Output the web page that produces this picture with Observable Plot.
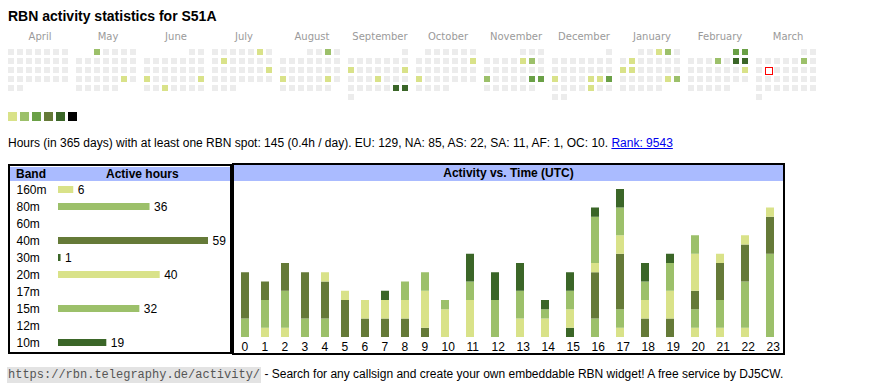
<!DOCTYPE html>
<html><head><meta charset="utf-8">
<script src="https://cdn.jsdelivr.net/npm/d3@7"></script>
<script src="https://cdn.jsdelivr.net/npm/@observablehq/plot@0.6"></script>
<style>
body{margin:0;background:#fff;font-family:"Liberation Sans",Arial,sans-serif;font-size:12px;color:#000;}
.abs{position:absolute;}
#title{left:8px;top:9px;font-size:14px;font-weight:bold;line-height:14px;white-space:nowrap;}
#summary{left:8px;top:137px;line-height:12px;white-space:nowrap;}
#summary a{color:#0000ee;text-decoration:underline;}
.box{border:2px solid #000;background:#fff;}
.hdr{position:absolute;left:0;right:0;background:#aabbff;font-weight:bold;line-height:14px;height:14px;white-space:nowrap;}
#footer{left:7px;top:366px;line-height:16px;white-space:nowrap;}
#footer code{font-family:"Liberation Mono","DejaVu Sans Mono",monospace;font-size:12px;background:#e3e3e3;color:#555;padding:1px 1px;}
svg{display:block;}
</style></head><body>
<div id="title" class="abs">RBN activity statistics for S51A</div>
<div id="cal" class="abs" style="left:0;top:26px"></div>
<div id="legend" class="abs" style="left:0;top:112px"></div>
<div id="summary" class="abs"></div>
<div id="boxL" class="abs box" style="left:8px;top:164px;width:220px;height:186px;">
  <div class="hdr" style="top:1px;"><span style="position:absolute;left:6px;">Band</span><span style="position:absolute;left:96px;">Active hours</span></div>
  <div id="bandChart" class="abs" style="left:0;top:15px"></div>
</div>
<div id="boxR" class="abs box" style="left:232px;top:163px;width:549px;height:188px;">
  <div class="hdr" style="top:0;height:16px;line-height:17px;text-align:center;">Activity vs. Time (UTC)</div>
  <div id="hourChart" class="abs" style="left:0;top:16px"></div>
</div>
<div id="footer" class="abs"><code>https://rbn.telegraphy.de/activity/</code> - Search for any callsign and create your own embeddable RBN widget! A free service by DJ5CW.</div>
<script>
// ---------- data ----------
const months = ["April","May","June","July","August","September","October","November","December","January","February","March"];
const monthYears = [2024,2024,2024,2024,2024,2024,2024,2024,2024,2025,2025,2025];
const monthNums  = [4,5,6,7,8,9,10,11,12,1,2,3];
const levelColors = ["#ececec","#d9e289","#9cc06a","#6aa046","#657a38","#3b6628","#000000"];
const activeDays = [
  ["2024-05-01",2],["2024-05-25",1],
  ["2024-06-17",1],["2024-06-23",1],["2024-06-26",1],
  ["2024-07-06",1],["2024-07-09",1],["2024-07-21",1],
  ["2024-08-03",2],["2024-08-19",1],["2024-08-24",1],
  ["2024-09-09",1],["2024-09-15",1],["2024-09-19",1],["2024-09-28",5],["2024-09-29",5],
  ["2024-10-13",1],["2024-10-21",1],
  ["2024-11-08",1],["2024-11-09",2],["2024-11-18",2],["2024-11-23",3],["2024-11-24",3],
  ["2024-12-16",1],["2024-12-20",1],["2024-12-21",1],["2024-12-22",3],["2024-12-27",1],
  ["2025-01-03",1],["2025-01-04",2],["2025-01-07",1],["2025-01-13",1],["2025-01-14",1],["2025-01-25",1],["2025-01-26",2],
  ["2025-02-01",3],["2025-02-02",3],["2025-02-06",2],["2025-02-08",5],["2025-02-09",5],["2025-02-16",1],
  ["2025-03-08",2]
];
const today = "2025-03-11";
const legendLevels = [1,2,3,4,5,6];

const continents = ["EU","NA","AS","SA","AF","OC"];
const continentHours = [129,85,22,11,1,10];
const totalHours = 145, perDay = "0.4", rank = 9543;

const bands = ["160m","80m","60m","40m","30m","20m","17m","15m","12m","10m"];
const bandHours = [6,36,0,59,1,40,0,32,0,19];
const bandColors = ["#d9e289","#9cc06a","#6aa046","#657a38","#3b6628","#d9e289","#6aa046","#9cc06a","#657a38","#3b6628"];

const hours = d3.range(24);
const h160m = [0,1,1,0,0,0,0,0,0,0,0,0,0,0,0,0,0,1,0,0,1,1,1,0];
const h80m  = [2,3,4,2,2,0,0,0,0,0,0,0,0,0,0,0,2,2,0,0,2,3,5,9];
const h40m  = [5,2,3,5,4,4,2,2,2,1,0,0,0,0,0,0,5,6,2,2,2,4,4,4];
const h30m  = [0,0,0,0,0,0,0,0,0,0,0,0,0,0,0,1,0,0,0,0,0,0,0,0];
const h20m  = [0,0,0,0,1,1,2,2,2,4,3,4,0,2,2,2,1,2,2,3,4,1,1,1];
const h15m  = [0,0,0,0,0,0,0,0,2,2,1,2,4,3,1,2,5,3,2,3,2,0,0,0];
const h10m  = [0,0,0,0,0,0,0,1,0,0,0,3,3,3,1,2,1,2,2,1,0,0,0,0];
const hourSeries = {"160m":h160m,"80m":h80m,"40m":h40m,"30m":h30m,"20m":h20m,"15m":h15m,"10m":h10m};
const stackOrder = ["160m","80m","40m","30m","20m","15m","10m"];

// ---------- calendar ----------
const levelByDate = new Map(activeDays);
const cal = [];
months.forEach((m, i) => {
  const y = monthYears[i], mo = monthNums[i];
  const first = new Date(y, mo - 1, 1);
  const n = new Date(y, mo, 0).getDate();
  const off = (first.getDay() + 6) % 7;
  for (let d = 1; d <= n; d++) {
    const key = `${y}-${String(mo).padStart(2,"0")}-${String(d).padStart(2,"0")}`;
    cal.push({month: m, col: (off + d - 1) % 7, row: Math.floor((off + d - 1) / 7), level: levelByDate.get(key) ?? 0, key});
  }
});

document.getElementById("cal").append(Plot.plot({
  width: 870, height: 77, marginTop: 23, marginBottom: 0, marginLeft: 8, marginRight: 51,
  fx: {domain: months, paddingInner: 5/68, paddingOuter: 0, round: false, axis: "top", tickSize: 0, tickPadding: 10, label: null},
  x: {domain: d3.range(7), padding: 0, round: false, axis: null},
  y: {domain: d3.range(6), padding: 0, round: false, axis: null},
  color: {type: "ordinal", domain: d3.range(7), range: levelColors},
  style: {fontFamily: "DejaVu Sans, Verdana, sans-serif", fontSize: "10px", color: "#9a9a9a", background: "transparent"},
  marks: [
    Plot.cell(cal, {fx: "month", x: "col", y: "row", fill: "level", insetLeft: 0, insetTop: 0, insetRight: 3, insetBottom: 3}),
    Plot.cell(cal.filter(d => d.key === today), {fx: "month", x: "col", y: "row", fill: "white", stroke: "red", strokeWidth: 1, insetLeft: 0.5, insetTop: 0.5, insetRight: 1.5, insetBottom: 1.5})
  ]
}));

// ---------- legend ----------
document.getElementById("legend").append(Plot.plot({
  width: 80, height: 9, marginTop: 0, marginBottom: 0, marginLeft: 8, marginRight: 0,
  x: {domain: legendLevels, padding: 0, round: false, axis: null},
  color: {type: "ordinal", domain: d3.range(7), range: levelColors},
  marks: [Plot.cell(legendLevels, {x: d => d, fill: d => d, insetLeft: 0, insetTop: 0, insetBottom: 0, insetRight: 3})]
}));

// ---------- summary ----------
const sum = document.getElementById("summary");
sum.append(`Hours (in 365 days) with at least one RBN spot: ${totalHours} (${perDay}h / day). ` +
  continents.map((c, i) => `${c}: ${continentHours[i]}`).join(", ") + ". ");
const a = document.createElement("a"); a.href = "#"; a.textContent = `Rank: ${rank}`; sum.append(a);

// ---------- band table ----------
const bandData = bands.map((b, i) => ({band: b, hours: bandHours[i]}));
document.getElementById("bandChart").append(Plot.plot({
  width: 220, height: 170, marginTop: 0, marginBottom: 0, marginLeft: 48, marginRight: 22,
  x: {domain: [0, 59], axis: null},
  y: {domain: bands, padding: 0, round: false, axis: null},
  color: {domain: bands, range: bandColors},
  style: {fontFamily: "Liberation Sans, Arial, sans-serif", fontSize: "12px", color: "#000", background: "transparent"},
  marks: [
    Plot.barX(bandData.filter(d => d.hours > 0), {x: "hours", y: "band", fill: "band", insetTop: 5, insetBottom: 5}),
    Plot.text(bandData.filter(d => d.hours > 0), {x: "hours", y: "band", text: "hours", dx: 4, textAnchor: "start"}),
    Plot.text(bands, {y: d => d, text: d => d, frameAnchor: "left", dx: -42, textAnchor: "start"})
  ]
}));

// ---------- activity vs time ----------
const hourly = [];
stackOrder.forEach(b => hours.forEach(h => { if (hourSeries[b][h] > 0) hourly.push({hour: h, band: b, value: hourSeries[b][h]}); }));
document.getElementById("hourChart").append(Plot.plot({
  width: 549, height: 172, marginTop: 8, marginBottom: 16, marginLeft: 7, marginRight: 17,
  x: {type: "linear", domain: [0, 10, 23], range: [7, 207, 532], label: null},
  y: {domain: [0, 16], axis: null},
  color: {domain: bands, range: bandColors},
  style: {fontFamily: "Liberation Sans, Arial, sans-serif", fontSize: "12px", color: "#000", background: "transparent"},
  marks: [
    Plot.rect(hourly, Plot.stackY({x1: "hour", x2: "hour", y: "value", z: "band", fill: "band", order: stackOrder, insetLeft: 0, insetRight: -8})),
    Plot.axisX({ticks: hours, tickSize: 0, tickPadding: 5, textAnchor: "start", tickFormat: d => String(d), label: null})
  ]
}));
</script>
</body></html>
